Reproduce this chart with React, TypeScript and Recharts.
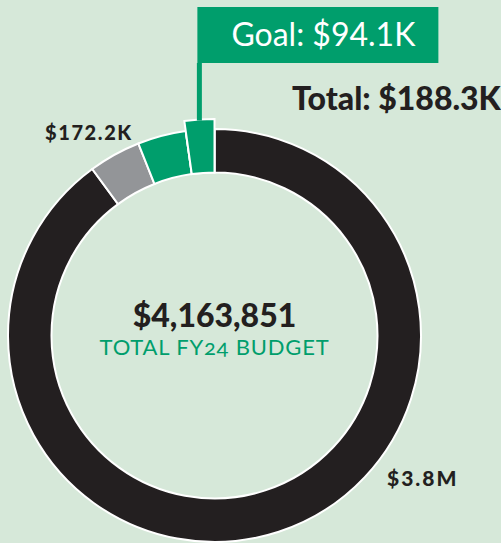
import React from 'react';
import { PieChart, Pie, Cell } from 'recharts';

const segmentNames = ['Other budget', 'Other gifts', 'Raised', 'Goal'];
const segmentValues = [3803351, 172200, 160000, 94100];
const segmentColors = ['#231f20', '#939598', '#009e6c', '#009e6c'];

const totalBudget = '$4,163,851';
const totalCaption = 'TOTAL FY24 BUDGET';
const goalLabel = 'Goal: $94.1K';
const greenTotalLabel = 'Total: $188.3K';
const greyLabel = '$172.2K';
const blackLabel = '$3.8M';

const BG = '#d6e8d9';
const GREEN = '#009e6c';
const INK = '#231f20';
const FONT = 'Lato, "Open Sans", sans-serif';

const data = segmentNames.map((name, i) => ({ name, value: segmentValues[i] }));
const GOAL_INDEX = 3;
const RAD = Math.PI / 180;

const renderGoalFlag = (props: any) => {
  if (props.index !== GOAL_INDEX) return null;
  const { cx, cy, midAngle, outerRadius } = props;
  const px = cx + outerRadius * Math.cos(-midAngle * RAD);
  const py = cy + outerRadius * Math.sin(-midAngle * RAD);
  const boxTop = 7;
  const boxBottom = 63;
  const boxLeft = px - 2;
  return (
    <g>
      <line x1={px} y1={py + 1} x2={px} y2={boxBottom} stroke={GREEN} strokeWidth={5} />
      <rect x={boxLeft} y={boxTop} width={241} height={boxBottom - boxTop} fill={GREEN} />
      <text x={boxLeft + 34} y={46} fill="#fff" fontSize={32} fontFamily={FONT} fontWeight={400}>
        {goalLabel}
      </text>
    </g>
  );
};

export default function App() {
  const cx = 214.5;
  const cy = 335.5;
  return (
    <div style={{ position: 'absolute', left: 0, top: 0, width: 501, height: 543, background: BG, overflow: 'hidden' }}>
      <PieChart width={501} height={543} margin={{ top: 0, right: 0, bottom: 0, left: 0 }}>
        <Pie
          data={data}
          dataKey="value"
          cx={cx}
          cy={cy}
          innerRadius={163}
          outerRadius={206.5}
          startAngle={90}
          endAngle={-270}
          stroke="#fff"
          strokeWidth={2}
          isAnimationActive={false}
        >
          {data.map((d, i) => (
            <Cell key={d.name} fill={segmentColors[i]} />
          ))}
        </Pie>
        <Pie
          data={data}
          dataKey="value"
          cx={cx}
          cy={cy}
          innerRadius={163}
          outerRadius={216.5}
          startAngle={90}
          endAngle={-270}
          stroke="#fff"
          strokeWidth={2}
          label={renderGoalFlag}
          labelLine={false}
          isAnimationActive={false}
        >
          {data.map((d, i) => (
            <Cell
              key={d.name}
              fill={i === GOAL_INDEX ? segmentColors[i] : 'none'}
              stroke={i === GOAL_INDEX ? '#fff' : 'none'}
            />
          ))}
        </Pie>
      </PieChart>
      <svg width={501} height={543} style={{ position: 'absolute', left: 0, top: 0, pointerEvents: 'none' }}>
        <text x={292} y={110} fill={INK} fontSize={32} fontWeight={900} fontFamily={FONT}>
          {greenTotalLabel}
        </text>
        <text x={45} y={140} fill={INK} fontSize={20} fontWeight={900} fontFamily={FONT} letterSpacing={1.6}>
          {greyLabel}
        </text>
        <text x={cx} y={327} textAnchor="middle" fill={INK} fontSize={32} fontWeight={900} fontFamily={FONT}>
          {totalBudget}
        </text>
        <text
          x={cx}
          y={355}
          textAnchor="middle"
          fill={GREEN}
          fontSize={22}
          fontFamily={FONT}
          letterSpacing={0.8}
          style={{ fontVariantNumeric: 'oldstyle-nums' }}
        >
          {totalCaption}
        </text>
        <text x={387} y={486} fill={INK} fontSize={21} fontWeight={900} fontFamily={FONT} letterSpacing={2}>
          {blackLabel}
        </text>
      </svg>
    </div>
  );
}
